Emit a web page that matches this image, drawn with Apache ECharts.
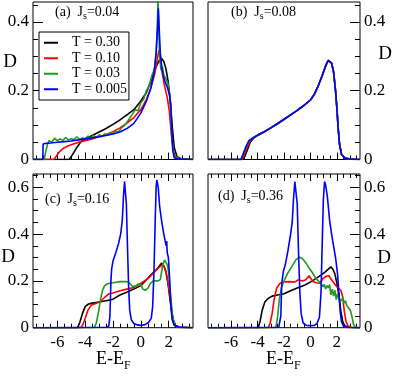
<!DOCTYPE html>
<html>
<head>
<meta charset="utf-8">
<script src="https://cdn.jsdelivr.net/npm/echarts@6/dist/echarts.min.js"></script>
<style>
  html, body { margin: 0; padding: 0; background: #fff; }
  #chart { width: 395px; height: 376px; }
</style>
</head>
<body>
<div id="chart"></div>
<script>
// energy axis (E - E_F) and DOS axis ticks
const xMajorTicks = [-6, -4, -2, 0, 2]
const xMinorTicks = [-7.5, -7, -6.5, -5.5, -5, -4.5, -3.5, -3, -2.5, -1.5, -1, -0.5, 0.5, 1, 1.5, 2.5, 3, 3.5]
const yMajorTop = [0, 0.2, 0.4]
const yMinorTop = [0.05, 0.1, 0.15, 0.25, 0.3, 0.35, 0.45]
const yMajorBottom = [0, 0.2, 0.4, 0.6]
const yMinorBottom = [0.05, 0.1, 0.15, 0.25, 0.3, 0.35, 0.45, 0.5, 0.55, 0.65]
const temps = ['T = 0.30', 'T = 0.10', 'T = 0.03', 'T = 0.005']
const panelTitles = ['(a)', '(b)', '(c)', '(d)']
const couplings = ['0.04', '0.08', '0.16', '0.36']

// (a) Js = 0.04
const a30 = [[-7.75, 0], [-5.15, 0], [-4.9, 0.015], [-4.6, 0.035], [-4.3, 0.052], [-4.0, 0.06], [-3.5, 0.07], [-3.0, 0.08], [-2.5, 0.09], [-2.0, 0.102], [-1.5, 0.115], [-1.0, 0.13], [-0.5, 0.145], [0, 0.17], [0.4, 0.195], [0.8, 0.235], [1.1, 0.27], [1.35, 0.29], [1.5, 0.294], [1.65, 0.285], [1.8, 0.265], [1.95, 0.23], [2.1, 0.18], [2.25, 0.1], [2.4, 0.035], [2.6, 0.008], [2.9, 0.002], [3.75, 0]]
const a10 = [[-7.75, 0], [-6.25, 0], [-6.1, 0.008], [-5.9, 0.02], [-5.6, 0.032], [-5.2, 0.04], [-4.8, 0.046], [-4.3, 0.052], [-3.5, 0.06], [-3.0, 0.066], [-2.5, 0.073], [-2.0, 0.081], [-1.5, 0.092], [-1.0, 0.106], [-0.5, 0.122], [0, 0.145], [0.4, 0.175], [0.7, 0.205], [1.0, 0.25], [1.2, 0.295], [1.3, 0.318], [1.4, 0.3], [1.55, 0.25], [1.7, 0.215], [1.9, 0.18], [2.05, 0.14], [2.2, 0.07], [2.35, 0.025], [2.5, 0.008], [2.8, 0.002], [3.75, 0]]
const a03 = [[-7.75, 0], [-6.95, 0], [-6.85, 0.02], [-6.7, 0.045], [-6.6, 0.055], [-6.4, 0.05], [-6.2, 0.062], [-6.0, 0.054], [-5.8, 0.06], [-5.6, 0.056], [-5.4, 0.064], [-5.2, 0.057], [-5.0, 0.06], [-4.8, 0.058], [-4.6, 0.066], [-4.4, 0.058], [-4.2, 0.063], [-4.0, 0.06], [-3.8, 0.068], [-3.6, 0.062], [-3.4, 0.07], [-3.2, 0.064], [-3.0, 0.072], [-2.8, 0.066], [-2.6, 0.075], [-2.4, 0.07], [-2.2, 0.078], [-2.0, 0.074], [-1.8, 0.083], [-1.6, 0.08], [-1.4, 0.092], [-1.2, 0.098], [-1.0, 0.108], [-0.8, 0.12], [-0.6, 0.132], [-0.4, 0.145], [-0.2, 0.142], [0, 0.165], [0.2, 0.175], [0.4, 0.2], [0.6, 0.215], [0.8, 0.245], [0.9, 0.255], [1.0, 0.27], [1.1, 0.31], [1.18, 0.38], [1.23, 0.47], [1.28, 0.4], [1.35, 0.3], [1.45, 0.26], [1.55, 0.27], [1.65, 0.245], [1.8, 0.235], [1.95, 0.22], [2.1, 0.175], [2.2, 0.09], [2.3, 0.03], [2.45, 0.008], [2.7, 0.002], [3.75, 0]]
const a005 = [[-7.75, 0], [-7.05, 0], [-7.02, 0.045], [-6.8, 0.047], [-6.5, 0.048], [-6.0, 0.05], [-5.5, 0.052], [-5.0, 0.054], [-4.5, 0.057], [-4.0, 0.06], [-3.5, 0.063], [-3.0, 0.066], [-2.5, 0.07], [-2.0, 0.074], [-1.5, 0.08], [-1.0, 0.09], [-0.5, 0.105], [0, 0.135], [0.4, 0.17], [0.7, 0.205], [0.95, 0.25], [1.1, 0.31], [1.2, 0.38], [1.26, 0.44], [1.32, 0.38], [1.4, 0.31], [1.5, 0.27], [1.6, 0.245], [1.75, 0.225], [1.9, 0.21], [2.05, 0.19], [2.15, 0.16], [2.22, 0.09], [2.3, 0.025], [2.4, 0.005], [2.7, 0.001], [3.75, 0]]

// (b) Js = 0.08
const b30 = [[-7.75, 0], [-5.1, 0], [-4.95, 0.01], [-4.75, 0.03], [-4.55, 0.05], [-4.3, 0.062], [-4.0, 0.07], [-3.5, 0.08], [-3.0, 0.092], [-2.5, 0.104], [-2.0, 0.116], [-1.5, 0.13], [-1.0, 0.143], [-0.5, 0.157], [0, 0.173], [0.3, 0.19], [0.6, 0.215], [0.9, 0.245], [1.15, 0.272], [1.35, 0.288], [1.45, 0.29], [1.6, 0.28], [1.75, 0.255], [1.9, 0.2], [2.0, 0.15], [2.1, 0.09], [2.2, 0.045], [2.35, 0.015], [2.6, 0.004], [3.0, 0.001], [3.75, 0]]
const b10 = [[-7.75, 0], [-5.2, 0], [-5.0, 0.015], [-4.8, 0.035], [-4.6, 0.052], [-4.3, 0.063], [-4.0, 0.07], [-3.5, 0.08], [-3.0, 0.092], [-2.5, 0.104], [-2.0, 0.117], [-1.5, 0.13], [-1.0, 0.143], [-0.5, 0.157], [0, 0.173], [0.3, 0.19], [0.6, 0.215], [0.9, 0.245], [1.15, 0.272], [1.35, 0.288], [1.45, 0.29], [1.6, 0.28], [1.75, 0.255], [1.9, 0.2], [2.0, 0.15], [2.1, 0.09], [2.2, 0.045], [2.35, 0.015], [2.6, 0.004], [3.0, 0.001], [3.75, 0]]
const b03 = [[-7.75, 0], [-5.25, 0], [-5.05, 0.018], [-4.85, 0.038], [-4.65, 0.054], [-4.3, 0.064], [-4.0, 0.071], [-3.5, 0.081], [-3.0, 0.092], [-2.5, 0.104], [-2.0, 0.117], [-1.5, 0.13], [-1.0, 0.143], [-0.5, 0.157], [0, 0.173], [0.3, 0.19], [0.6, 0.215], [0.9, 0.245], [1.15, 0.272], [1.35, 0.288], [1.45, 0.29], [1.6, 0.28], [1.75, 0.255], [1.9, 0.2], [2.0, 0.15], [2.1, 0.09], [2.2, 0.045], [2.35, 0.015], [2.6, 0.004], [3.0, 0.001], [3.75, 0]]
const b005 = [[-7.75, 0], [-5.25, 0], [-5.05, 0.02], [-4.85, 0.04], [-4.65, 0.055], [-4.3, 0.064], [-4.0, 0.071], [-3.5, 0.081], [-3.0, 0.092], [-2.5, 0.104], [-2.0, 0.117], [-1.5, 0.13], [-1.0, 0.143], [-0.5, 0.157], [0, 0.173], [0.3, 0.19], [0.6, 0.215], [0.9, 0.245], [1.15, 0.272], [1.35, 0.288], [1.45, 0.29], [1.6, 0.28], [1.75, 0.255], [1.9, 0.2], [2.0, 0.15], [2.1, 0.09], [2.2, 0.045], [2.35, 0.015], [2.6, 0.004], [3.0, 0.001], [3.75, 0]]

// (c) Js = 0.16
const c30 = [[-7.75, 0], [-4.55, 0], [-4.4, 0.02], [-4.2, 0.06], [-4.0, 0.09], [-3.8, 0.1], [-3.5, 0.105], [-3.0, 0.11], [-2.5, 0.115], [-2.0, 0.122], [-1.5, 0.14], [-1.0, 0.152], [-0.5, 0.165], [0, 0.18], [0.4, 0.205], [0.8, 0.23], [1.1, 0.247], [1.3, 0.262], [1.5, 0.276], [1.65, 0.265], [1.8, 0.24], [1.95, 0.19], [2.1, 0.12], [2.2, 0.075], [2.35, 0.03], [2.5, 0.01], [2.8, 0.002], [3.75, 0]]
const c10 = [[-7.75, 0], [-4.3, 0], [-4.15, 0.015], [-4.0, 0.04], [-3.8, 0.075], [-3.55, 0.097], [-3.2, 0.105], [-2.9, 0.112], [-2.6, 0.13], [-2.3, 0.145], [-2.0, 0.148], [-1.5, 0.158], [-1.0, 0.165], [-0.5, 0.172], [0, 0.19], [0.4, 0.205], [0.7, 0.22], [1.0, 0.24], [1.25, 0.254], [1.45, 0.265], [1.6, 0.27], [1.75, 0.25], [1.9, 0.215], [2.05, 0.15], [2.15, 0.11], [2.3, 0.03], [2.45, 0.008], [2.7, 0.001], [3.75, 0]]
const c03 = [[-7.75, 0], [-3.35, 0], [-3.2, 0.02], [-3.05, 0.065], [-2.9, 0.12], [-2.75, 0.16], [-2.6, 0.18], [-2.4, 0.188], [-2.0, 0.192], [-1.5, 0.197], [-1.0, 0.197], [-0.8, 0.19], [-0.6, 0.176], [-0.4, 0.178], [-0.2, 0.186], [0, 0.185], [0.15, 0.165], [0.3, 0.16], [0.5, 0.168], [0.7, 0.19], [0.9, 0.2], [1.2, 0.2], [1.4, 0.205], [1.55, 0.26], [1.7, 0.29], [1.8, 0.295], [1.9, 0.27], [2.0, 0.235], [2.1, 0.17], [2.2, 0.1], [2.3, 0.04], [2.45, 0.01], [2.7, 0.002], [3.75, 0]]
const c005 = [[-7.75, 0], [-2.45, 0.002], [-2.3, 0.008], [-2.22, 0.05], [-2.15, 0.2], [-2.1, 0.25], [-2.0, 0.285], [-1.8, 0.32], [-1.6, 0.36], [-1.45, 0.4], [-1.33, 0.46], [-1.25, 0.56], [-1.17, 0.625], [-1.1, 0.62], [-1.04, 0.53], [-0.96, 0.35], [-0.88, 0.18], [-0.8, 0.075], [-0.68, 0.033], [-0.5, 0.018], [-0.3, 0.013], [0, 0.01], [0.3, 0.013], [0.55, 0.022], [0.75, 0.04], [0.85, 0.09], [0.95, 0.25], [1.03, 0.45], [1.1, 0.6], [1.15, 0.632], [1.25, 0.6], [1.35, 0.52], [1.5, 0.455], [1.65, 0.4], [1.75, 0.37], [1.82, 0.35], [1.86, 0.37], [1.9, 0.32], [1.98, 0.3], [2.06, 0.22], [2.15, 0.1], [2.25, 0.035], [2.4, 0.01], [2.7, 0.003], [3.75, 0]]

// (d) Js = 0.36
const d30 = [[-7.75, 0], [-3.95, 0], [-3.8, 0.03], [-3.65, 0.075], [-3.45, 0.11], [-3.2, 0.125], [-2.9, 0.135], [-2.5, 0.14], [-2.0, 0.145], [-1.5, 0.158], [-1.0, 0.17], [-0.5, 0.18], [0, 0.195], [0.4, 0.21], [0.8, 0.225], [1.1, 0.238], [1.35, 0.25], [1.55, 0.26], [1.7, 0.25], [1.85, 0.23], [2.0, 0.19], [2.15, 0.14], [2.3, 0.07], [2.45, 0.025], [2.6, 0.008], [2.9, 0.002], [3.75, 0]]
const d10 = [[-7.75, 0], [-3.2, 0], [-3.05, 0.02], [-2.9, 0.06], [-2.75, 0.12], [-2.55, 0.17], [-2.3, 0.19], [-2.0, 0.196], [-1.6, 0.197], [-1.2, 0.195], [-0.9, 0.205], [-0.6, 0.2], [-0.35, 0.205], [-0.1, 0.222], [0.05, 0.215], [0.2, 0.196], [0.45, 0.192], [0.7, 0.19], [0.95, 0.21], [1.2, 0.22], [1.4, 0.222], [1.6, 0.205], [1.85, 0.185], [2.1, 0.17], [2.3, 0.16], [2.45, 0.13], [2.55, 0.075], [2.7, 0.025], [2.85, 0.007], [3.1, 0.001], [3.75, 0]]
const d03 = [[-7.75, 0], [-2.62, 0], [-2.5, 0.04], [-2.35, 0.12], [-2.2, 0.17], [-2.0, 0.2], [-1.7, 0.235], [-1.4, 0.262], [-1.1, 0.29], [-0.85, 0.302], [-0.6, 0.295], [-0.35, 0.278], [-0.1, 0.255], [0.15, 0.235], [0.4, 0.212], [0.6, 0.2], [0.8, 0.19], [0.95, 0.175], [1.05, 0.185], [1.15, 0.165], [1.25, 0.18], [1.35, 0.17], [1.45, 0.185], [1.55, 0.14], [1.65, 0.165], [1.75, 0.135], [1.85, 0.16], [1.95, 0.12], [2.05, 0.145], [2.15, 0.125], [2.25, 0.132], [2.35, 0.115], [2.45, 0.13], [2.55, 0.105], [2.65, 0.115], [2.75, 0.095], [2.85, 0.1], [2.95, 0.08], [3.05, 0.07], [3.15, 0.045], [3.25, 0.015], [3.4, 0.003], [3.75, 0]]
const d005 = [[-7.75, 0], [-2.4, 0.002], [-2.3, 0.01], [-2.24, 0.05], [-2.17, 0.19], [-2.05, 0.24], [-1.9, 0.27], [-1.7, 0.33], [-1.5, 0.4], [-1.38, 0.45], [-1.28, 0.55], [-1.18, 0.625], [-1.1, 0.62], [-1.0, 0.53], [-0.9, 0.32], [-0.8, 0.15], [-0.7, 0.06], [-0.55, 0.02], [-0.3, 0.01], [0, 0.008], [0.3, 0.01], [0.5, 0.018], [0.68, 0.045], [0.8, 0.15], [0.9, 0.38], [0.98, 0.55], [1.07, 0.625], [1.15, 0.61], [1.28, 0.56], [1.45, 0.46], [1.6, 0.4], [1.75, 0.35], [1.9, 0.3], [2.05, 0.23], [2.15, 0.15], [2.25, 0.07], [2.35, 0.025], [2.5, 0.006], [2.8, 0.001], [3.75, 0]]

const panelData = [
  [a30, a10, a03, a005],
  [b30, b10, b03, b005],
  [c30, c10, c03, c005],
  [d30, d10, d03, d005]
]
const colors = ['#000000', '#ff0000', '#1f9a1f', '#0000ff']

const FONT = 'Liberation Serif'
const X_MIN = -7.75
const X_MAX = 3.75

// panel boxes in pixels
const grids = [
  { left: 33, top: 2, width: 160, height: 157.5, show: true, borderColor: '#000', borderWidth: 1 },
  { left: 208, top: 2, width: 152, height: 157.5, show: true, borderColor: '#000', borderWidth: 1 },
  { left: 33, top: 174, width: 160, height: 153.7, show: true, borderColor: '#000', borderWidth: 1 },
  { left: 208, top: 174, width: 152, height: 153.7, show: true, borderColor: '#000', borderWidth: 1 }
]
const yMax = [0.458, 0.458, 0.657, 0.657]
const ySide = ['left', 'right', 'left', 'right']

const xAxes = []
const yAxes = []
const mainX = []
const mainY = []

function tickAxis (g, pos, ticks, len, labels, isX) {
  const ax = {
    type: 'value',
    gridIndex: g,
    position: pos,
    axisLine: { show: false, onZero: false },
    splitLine: { show: false },
    axisTick: { show: true, inside: true, length: len, customValues: ticks, lineStyle: { color: '#000', width: 1 } },
    axisLabel: {
      show: labels,
      customValues: ticks,
      color: '#000',
      fontFamily: FONT,
      fontSize: 17,
      margin: isX ? 6 : 4
    }
  }
  if (isX) {
    ax.min = X_MIN
    ax.max = X_MAX
  } else {
    ax.min = 0
    ax.max = yMax[g]
  }
  return ax
}

for (let g = 0; g < 4; g++) {
  const lower = g >= 2
  mainX.push(xAxes.length)
  xAxes.push(tickAxis(g, 'bottom', xMajorTicks, 7, lower, true))
  xAxes.push(tickAxis(g, 'bottom', xMinorTicks, 4, false, true))
  if (lower) {
    xAxes.push(tickAxis(g, 'top', xMajorTicks, 7, false, true))
    xAxes.push(tickAxis(g, 'top', xMinorTicks, 4, false, true))
  }
  mainY.push(yAxes.length)
  yAxes.push(tickAxis(g, ySide[g], lower ? yMajorBottom : yMajorTop, 10, true, false))
  yAxes.push(tickAxis(g, ySide[g], lower ? yMinorBottom : yMinorTop, 5, false, false))
}

const series = []
for (let g = 0; g < 4; g++) {
  for (let k = 0; k < 4; k++) {
    series.push({
      name: temps[k],
      type: 'line',
      xAxisIndex: mainX[g],
      yAxisIndex: mainY[g],
      data: panelData[g][k],
      symbol: 'none',
      smooth: false,
      clip: true,
      lineStyle: { color: colors[k], width: 1.6 },
      itemStyle: { color: colors[k] }
    })
  }
}

const subRich = {
  m: { fontFamily: FONT, fontSize: 14, color: '#000' },
  s: { fontFamily: FONT, fontSize: 10, color: '#000', padding: [9, 0, 0, 0] }
}
const labelPos = [[55, 15], [231, 15], [45, 202], [218, 199]]
const yTitlePos = [[10, 62], [385, 54], [8, 257], [384, 258]]

const graphics = []
for (let g = 0; g < 4; g++) {
  graphics.push({
    type: 'text',
    left: labelPos[g][0],
    top: labelPos[g][1] - 10,
    z: 100,
    style: {
      text: '{m|' + panelTitles[g] + '  J}{s|s}{m|=' + couplings[g] + '}',
      rich: subRich
    }
  })
  graphics.push({
    type: 'text',
    x: yTitlePos[g][0],
    y: yTitlePos[g][1],
    z: 100,
    style: {
      text: 'D',
      fontFamily: FONT,
      fontSize: 19,
      fill: '#000',
      align: 'center',
      verticalAlign: 'middle',
      textAlign: 'center',
      textVerticalAlign: 'middle'
    }
  })
}
const xTitleX = [113, 283]
for (let i = 0; i < 2; i++) {
  graphics.push({
    type: 'text',
    left: xTitleX[i] - 17,
    top: 350,
    z: 100,
    style: {
      text: '{m|E-E}{s|F}',
      rich: {
        m: { fontFamily: FONT, fontSize: 18, color: '#000' },
        s: { fontFamily: FONT, fontSize: 12, color: '#000', padding: [14, 0, 0, 0] }
      }
    }
  })
}

const chart = echarts.init(document.getElementById('chart'))
chart.setOption({
  animation: false,
  backgroundColor: '#fff',
  grid: grids,
  xAxis: xAxes,
  yAxis: yAxes,
  legend: {
    data: temps.map(function (t) { return { name: t, icon: 'rect' } }),
    orient: 'vertical',
    left: 39,
    top: 32,
    itemWidth: 14,
    itemHeight: 2,
    itemGap: 0,
    padding: [3, 2, 3, 5],
    borderColor: '#000',
    borderWidth: 1,
    borderRadius: 0,
    backgroundColor: '#fff',
    selectedMode: false,
    textStyle: { fontFamily: FONT, fontSize: 14, lineHeight: 15.5, color: '#000', padding: [0, 0, 0, 9] }
  },
  graphic: graphics,
  series: series
})
</script>
</body>
</html>
